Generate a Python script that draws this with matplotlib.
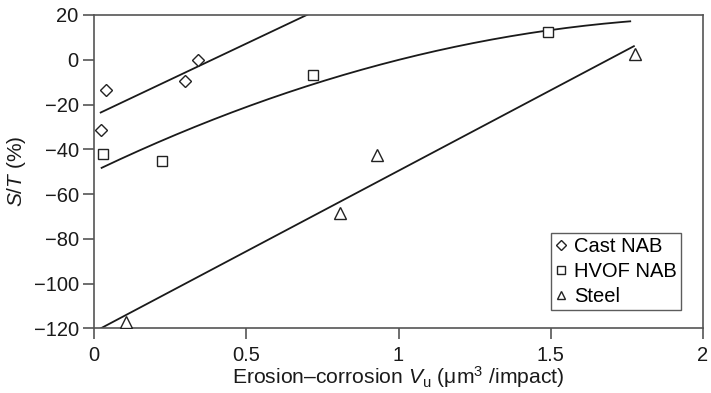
import numpy as np
import matplotlib
matplotlib.use("Agg")
import matplotlib.pyplot as plt

plt.rcParams['font.family'] = ['Liberation Sans', 'DejaVu Sans']
plt.rcParams['mathtext.fontset'] = 'custom'
plt.rcParams['mathtext.rm'] = 'Liberation Sans'
plt.rcParams['mathtext.it'] = 'Liberation Sans:italic'

# Data
cast_x = [0.024, 0.040, 0.300, 0.342]
cast_y = [-31.4, -13.5, -9.6, 0.0]
hvof_x = [0.031, 0.224, 0.718, 1.490]
hvof_y = [-42.1, -45.4, -6.7, 12.3]
steel_x = [0.104, 0.809, 0.928, 1.776]
steel_y = [-117.4, -68.4, -42.6, 2.4]

# Trend line extents (x range)
cast_range = [0.022, 1.77]
hvof_range = [0.025, 1.761]
steel_range = [0.022, 1.773]

xticks = [0, 0.5, 1, 1.5, 2]
xticklabels = ['0', '0.5', '1', '1.5', '2']
yticks = [-120, -100, -80, -60, -40, -20, 0, 20]

W, H = 711, 393
fig = plt.figure(figsize=(W / 100, H / 100), dpi=100)
ax = fig.add_axes([94 / W, 1 - 328.3 / H, (703 - 94) / W, (328.3 - 15) / H])

fs = 14.5
mk = dict(linestyle='none', markerfacecolor='white', markeredgecolor='#222222',
          markeredgewidth=1.0)

def fit_line(x, y, deg, rng):
    c = np.polyfit(x, y, deg)
    xx = np.linspace(rng[0], rng[1], 200)
    return xx, np.polyval(c, xx)

for (x, y, deg, rng) in [(cast_x, cast_y, 1, cast_range),
                         (hvof_x, hvof_y, 2, hvof_range),
                         (steel_x, steel_y, 1, steel_range)]:
    xx, yy = fit_line(x, y, deg, rng)
    ax.plot(xx, yy, color='#1a1a1a', lw=1.3, zorder=2)

ax.plot(cast_x, cast_y, marker='D', markersize=6.5, label='Cast NAB', zorder=3, **mk)
ax.plot(hvof_x, hvof_y, marker='s', markersize=7, label='HVOF NAB', zorder=3, **mk)
ax.plot(steel_x, steel_y, marker='^', markersize=8.5, label='Steel', zorder=3, **mk)

ax.set_xlim(0, 2)
ax.set_ylim(-120, 20)
ax.set_xticks(xticks)
ax.set_xticklabels(xticklabels)
ax.set_yticks(yticks)

for s in ax.spines.values():
    s.set_color('#555555')
    s.set_linewidth(1.2)

ax.tick_params(axis='both', direction='out', length=8, width=1.2, color='#555555',
               labelsize=fs, labelcolor='#1a1a1a')
ax.tick_params(axis='x', pad=5)
ax.tick_params(axis='y', pad=3)

ax.set_xlabel(r'Erosion–corrosion $V_{\mathrm{u}}$ ($\mathrm{\mu}$m$^3$ /impact)',
              fontsize=15.2, color='#1a1a1a', labelpad=-1)
ax.set_ylabel(r'$S/T$ (%)', fontsize=15, color='#1a1a1a', labelpad=4)

leg = ax.legend(loc='lower right', bbox_to_anchor=(0.964, 0.058), fontsize=fs,
                frameon=True, fancybox=False, borderpad=0.2, labelspacing=0.3,
                handlelength=0.6, handletextpad=0.35, borderaxespad=0,
                markerscale=0.75)
leg.get_frame().set_edgecolor('#333333')
leg.get_frame().set_linewidth(1.0)

fig.savefig('out.png', dpi=100)
